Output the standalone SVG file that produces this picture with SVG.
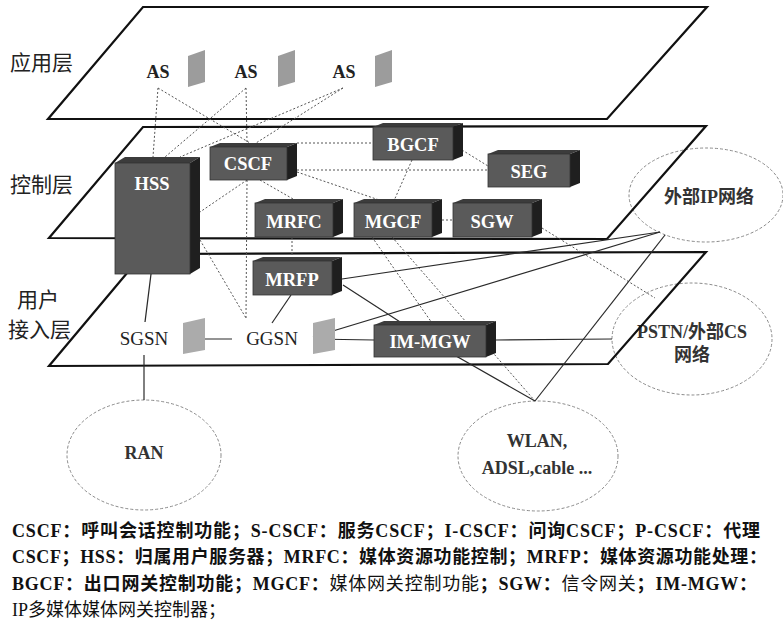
<svg xmlns="http://www.w3.org/2000/svg" width="783" height="634" viewBox="0 0 783 634">
<style>
.plane{fill:none;stroke:#111;stroke-width:2.2;stroke-linejoin:miter}
.layer{font-family:"Noto Sans CJK SC","Noto Sans",sans-serif;font-size:21px;fill:#222}
.front{fill:#5a5a5a;stroke:#333;stroke-width:0.8}
.top{fill:#3c3c3c}
.side{fill:#1f1f1f}
.lbl{font-family:"Liberation Serif","Noto Sans CJK SC",serif;font-weight:bold;font-size:18.5px;fill:#fff;text-anchor:middle}
.as{font-family:"Liberation Serif",serif;font-weight:bold;font-size:18px;fill:#222;text-anchor:middle}
.gw{font-family:"Liberation Serif",serif;font-size:19px;fill:#222;text-anchor:middle}
.panel{fill:#9c9c9c}
.panel2{fill:#ababab}
.cloud{fill:none;stroke:#8a8a8a;stroke-width:1;stroke-dasharray:3 2}
.ctext{font-family:"Liberation Serif","Noto Sans CJK SC",serif;font-weight:bold;font-size:18px;fill:#333;text-anchor:middle}
.dot{fill:none;stroke:#555;stroke-width:1;stroke-dasharray:2 2}
.solid{fill:none;stroke:#2a2a2a;stroke-width:1.2}
.leg{font-family:"Liberation Serif","Noto Sans CJK SC",serif;font-size:18px;fill:#111;font-weight:bold}
.reg{font-weight:normal}
</style>

<!-- clouds -->
<g id="ext-ip"><ellipse class="cloud" cx="706" cy="195" rx="77" ry="47"/><text class="ctext" x="709" y="203">外部IP网络</text></g>
<g id="pstn"><ellipse class="cloud" cx="692" cy="339" rx="80" ry="56"/><text class="ctext" x="692" y="338">PSTN/外部CS</text><text class="ctext" x="692" y="361">网络</text></g>
<g id="ran"><ellipse class="cloud" cx="144" cy="455" rx="77" ry="55"/><text class="ctext" x="144" y="459">RAN</text></g>
<g id="wlan"><ellipse class="cloud" cx="538" cy="456" rx="80" ry="55"/><text class="ctext" x="537" y="447">WLAN,</text><text class="ctext" x="537" y="474">ADSL,cable ...</text></g>

<!-- planes -->
<g id="app-layer"><polygon class="plane" points="143,7 707,7 607,119 48,119"/><text class="layer" x="10" y="70">应用层</text></g>
<g id="ctrl-layer"><polygon class="plane" points="143,127 706,126 607,239 49,238"/><text class="layer" x="10" y="192">控制层</text></g>
<g id="user-layer"><polygon class="plane" points="143,254 706,252 608,364 49,366"/><text class="layer" x="17" y="307">用户</text><text class="layer" x="8" y="337">接入层</text></g>

<!-- connectors -->
<g id="connectors">
<line class="dot" x1="158" y1="88" x2="153" y2="157"/>
<line class="dot" x1="158" y1="88" x2="250" y2="143"/>
<line class="dot" x1="246" y1="88" x2="165" y2="157"/>
<line class="dot" x1="246" y1="88" x2="247" y2="143"/>
<line class="dot" x1="343" y1="88" x2="180" y2="157"/>
<line class="dot" x1="343" y1="88" x2="256" y2="143"/>
<line class="dot" x1="297" y1="143" x2="373" y2="143"/>
<line class="dot" x1="297" y1="170" x2="488" y2="170"/>
<line class="dot" x1="462" y1="150" x2="488" y2="166"/>
<line class="dot" x1="412" y1="160" x2="393" y2="203"/>
<line class="dot" x1="297" y1="172" x2="388" y2="203"/>
<line class="dot" x1="260" y1="180" x2="300" y2="203"/>
<line class="dot" x1="247" y1="180" x2="200" y2="212"/>
<line class="dot" x1="247" y1="180" x2="246" y2="318"/>
<line class="dot" x1="200" y1="240" x2="246" y2="318"/>
<line class="dot" x1="292" y1="237" x2="292" y2="261"/>
<line class="dot" x1="442" y1="220" x2="453" y2="220"/>
<line class="dot" x1="372" y1="237" x2="432" y2="323"/>
<line class="dot" x1="392" y1="237" x2="535" y2="401"/>
<line class="dot" x1="542" y1="228" x2="655" y2="298"/>
<line class="solid" x1="151" y1="274" x2="145" y2="322"/>
<line class="solid" x1="144" y1="355" x2="144" y2="400"/>
<line class="solid" x1="183" y1="339" x2="232" y2="339"/>
<line class="solid" x1="291" y1="295" x2="272" y2="323"/>
<line class="solid" x1="313" y1="339" x2="374" y2="340"/>
<line class="solid" x1="313" y1="337" x2="660" y2="232"/>
<line class="solid" x1="342" y1="279" x2="660" y2="232"/>
<polyline class="solid" points="343,285 428,340 535,401"/>
<line class="solid" x1="665" y1="235" x2="535" y2="401"/>
<line class="solid" x1="496" y1="340" x2="612" y2="339"/>
</g>

<!-- AS nodes -->
<g id="as1"><text class="as" x="158" y="78">AS</text><polygon class="panel" points="188,56 205,50 205,82 188,87"/></g>
<g id="as2"><text class="as" x="246" y="78">AS</text><polygon class="panel" points="278,56 295,50 295,82 278,87"/></g>
<g id="as3"><text class="as" x="344" y="78">AS</text><polygon class="panel" points="375,56 392,50 392,82 375,87"/></g>

<!-- boxes -->
<g id="hss"><polygon class="top" points="115,163 125,157 200,157 190,163"/><polygon class="side" points="190,163 200,157 200,268 190,274"/><rect class="front" x="115" y="163" width="75" height="111"/><text class="lbl" x="152" y="190">HSS</text></g>
<g id="cscf"><polygon class="top" points="210,147 220,143 297,143 287,147"/><polygon class="side" points="287,147 297,143 297,176 287,180"/><rect class="front" x="210" y="147" width="77" height="33"/><text class="lbl" x="248" y="170">CSCF</text></g>
<g id="bgcf"><polygon class="top" points="373,127 383,123 463,123 453,127"/><polygon class="side" points="453,127 463,123 463,156 453,160"/><rect class="front" x="373" y="127" width="80" height="33"/><text class="lbl" x="413" y="151">BGCF</text></g>
<g id="seg"><polygon class="top" points="488,154 498,150 580,150 570,154"/><polygon class="side" points="570,154 580,150 580,183 570,187"/><rect class="front" x="488" y="154" width="82" height="33"/><text class="lbl" x="529" y="178">SEG</text></g>
<g id="mrfc"><polygon class="top" points="255,203 265,199 343,199 333,203"/><polygon class="side" points="333,203 343,199 343,233 333,237"/><rect class="front" x="255" y="203" width="78" height="34"/><text class="lbl" x="294" y="228">MRFC</text></g>
<g id="mgcf"><polygon class="top" points="354,203 364,199 442,199 432,203"/><polygon class="side" points="432,203 442,199 442,233 432,237"/><rect class="front" x="354" y="203" width="78" height="34"/><text class="lbl" x="393" y="228">MGCF</text></g>
<g id="sgw"><polygon class="top" points="453,203 463,199 542,199 532,203"/><polygon class="side" points="532,203 542,199 542,233 532,237"/><rect class="front" x="453" y="203" width="79" height="34"/><text class="lbl" x="492" y="228">SGW</text></g>
<g id="mrfp"><polygon class="top" points="253,261 263,257 342,257 332,261"/><polygon class="side" points="332,261 342,257 342,291 332,295"/><rect class="front" x="253" y="261" width="79" height="34"/><text class="lbl" x="292" y="286">MRFP</text></g>
<g id="im-mgw"><polygon class="top" points="374,325 384,321 496,321 486,325"/><polygon class="side" points="486,325 496,321 496,353 486,357"/><rect class="front" x="374" y="325" width="112" height="32"/><text class="lbl" x="430" y="348">IM-MGW</text></g>

<!-- gateways -->
<g id="sgsn"><text class="gw" x="144" y="345">SGSN</text><polygon class="panel2" points="183,323 205,318 205,350 183,354"/></g>
<g id="ggsn"><text class="gw" x="272" y="345">GGSN</text><polygon class="panel2" points="313,323 335,318 335,350 313,354"/></g>

<!-- legend -->
<g id="legend">
<text class="leg" x="12" y="537" textLength="748" lengthAdjust="spacing">CSCF：呼叫会话控制功能；S-CSCF：服务CSCF；I-CSCF：问询CSCF；P-CSCF：代理</text>
<text class="leg" x="12" y="563" textLength="755" lengthAdjust="spacing">CSCF；HSS：归属用户服务器；MRFC：媒体资源功能控制；MRFP：媒体资源功能处理：</text>
<text class="leg" x="12" y="590" textLength="745" lengthAdjust="spacing">BGCF：出口网关控制功能；MGCF：<tspan class="reg">媒体网关控制功能</tspan>；SGW：<tspan class="reg">信令网关</tspan>；IM-MGW：</text>
<text class="leg reg" x="12" y="616">IP多媒体媒体网关控制器；</text>
</g>
</svg>
